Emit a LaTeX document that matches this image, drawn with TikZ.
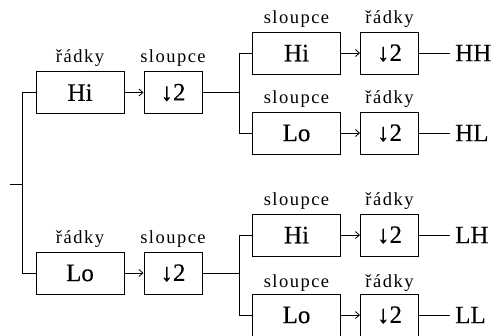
\documentclass[tikz,border=0pt]{standalone}
\usepackage{fontspec}
\setmainfont{Liberation Serif}
\newfontfamily\boxfont[FakeBold=0.3]{Liberation Serif}
\newfontfamily\tagfont[LetterSpace=8]{Liberation Serif}
\usetikzlibrary{arrows.meta}
\tikzset{
  blk/.style={draw, line width=1pt, minimum height=42pt, inner sep=0pt,
    font=\boxfont\fontsize{25}{25}\selectfont},
  wide/.style={blk, minimum width=88pt},
  narrow/.style={blk, minimum width=58pt},
  tag/.style={font=\tagfont\fontsize{18.5}{18.5}\selectfont, anchor=base, inner sep=0pt},
  outtxt/.style={font=\boxfont\fontsize{25}{25}\selectfont, anchor=west, inner xsep=5pt, inner ysep=0pt},
  wire/.style={line width=1pt},
  feed/.style={wire, -{Straight Barb[length=4pt,width=7pt,line width=0.8pt]}},
}
\begin{document}
\begin{tikzpicture}[x=1pt, y=-1pt]
\useasboundingbox (0,0) rectangle (498,335);

% first stage
\node[wide]   (h1) at (80,92.5)  {Hi};
\node[narrow] (d1) at (173,92.5) {↓2};
\node[wide]   (l1) at (80,273)   {Lo};
\node[narrow] (d2) at (173,273)  {↓2};

% second stage, upper branch
\node[wide]   (h2) at (296.5,53)  {Hi};
\node[narrow] (d3) at (389.5,53)  {↓2};
\node[wide]   (l2) at (296.5,133) {Lo};
\node[narrow] (d4) at (389.5,133) {↓2};

% second stage, lower branch
\node[wide]   (h3) at (296.5,235) {Hi};
\node[narrow] (d5) at (389.5,235) {↓2};
\node[wide]   (l3) at (296.5,315) {Lo};
\node[narrow] (d6) at (389.5,315) {↓2};

% direction tags
\node[tag] at ([yshift=9pt]h1.north) {řádky};
\node[tag] at ([yshift=9pt]d1.north) {sloupce};
\node[tag] at ([yshift=8pt]l1.north) {řádky};
\node[tag] at ([yshift=8pt]d2.north) {sloupce};
\node[tag] at ([yshift=8pt]h2.north) {sloupce};
\node[tag] at ([yshift=8pt]d3.north) {řádky};
\node[tag] at ([yshift=8pt]l2.north) {sloupce};
\node[tag] at ([yshift=8pt]d4.north) {řádky};
\node[tag] at ([yshift=8pt]h3.north) {sloupce};
\node[tag] at ([yshift=8pt]d5.north) {řádky};
\node[tag] at ([yshift=6pt]l3.north) {sloupce};
\node[tag] at ([yshift=6pt]d6.north) {řádky};

% outputs
\node[outtxt] (hh) at (450,53)  {HH};
\node[outtxt] (hl) at (450,133) {HL};
\node[outtxt] (lh) at (450,235) {LH};
\node[outtxt] (ll) at (450,315) {LL};

% splitting points
\coordinate (in) at (10,184);
\coordinate (s0) at (22.7,184);
\coordinate (s1) at (239.5,92.5);
\coordinate (s2) at (239.5,273);

% input split
\draw[wire] (in) -- (s0);
\draw[wire] (h1.west) -| (s0) |- (l1.west);
\draw[feed] (h1) -- (d1);
\draw[feed] (l1) -- (d2);

% upper branch
\draw[wire] (d1.east) -- (s1);
\draw[wire] (h2.west) -| (s1) |- (l2.west);
\draw[feed] (h2) -- (d3);
\draw[feed] (l2) -- (d4);
\draw[wire] (d3.east) -- (hh.west);
\draw[wire] (d4.east) -- (hl.west);

% lower branch
\draw[wire] (d2.east) -- (s2);
\draw[wire] (h3.west) -| (s2) |- (l3.west);
\draw[feed] (h3) -- (d5);
\draw[feed] (l3) -- (d6);
\draw[wire] (d5.east) -- (lh.west);
\draw[wire] (d6.east) -- (ll.west);
\end{tikzpicture}
\end{document}
